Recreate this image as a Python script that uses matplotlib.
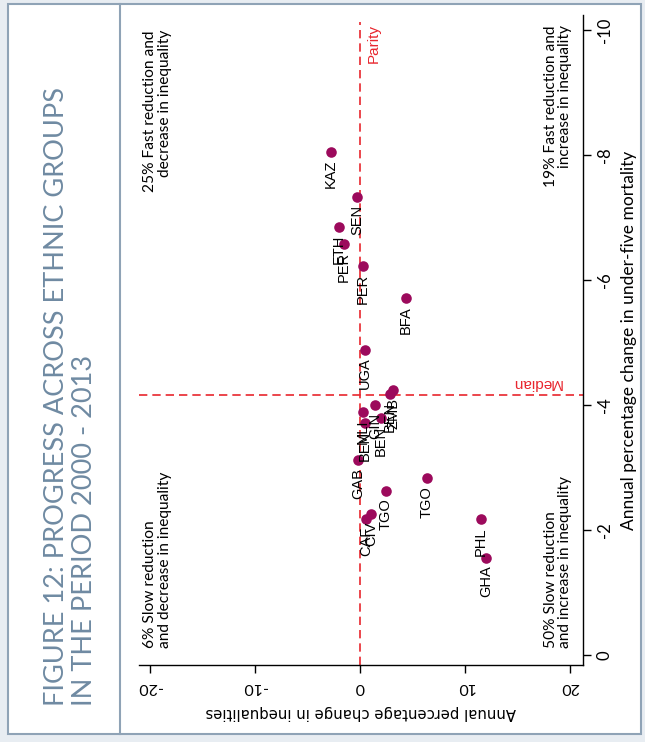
import matplotlib.pyplot as plt
from matplotlib.patches import Rectangle
from matplotlib.lines import Line2D

# ethnic groups: annual % change in inequality (x) and in under-five mortality (y)
labels = ['KAZ', 'SEN', 'ETH', 'PER', 'PER', 'BFA', 'UGA', 'ZMB', 'BEN', 'GIN',
          'MLI', 'BEN', 'BEN', 'GAB', 'TGO', 'TGO', 'CAF', 'CIV', 'PHL', 'GHA']
ineq = [-2.79, -0.25, -2.03, -1.52, 0.25, 4.35, 0.50, 3.17, 2.86, 1.43,
        0.26, 1.97, 0.48, -0.16, 2.48, 6.35, 0.57, 1.05, 11.49, 12.0]
u5mr = [-8.05, -7.33, -6.85, -6.57, -6.22, -5.71, -4.88, -4.24, -4.18, -4.00,
        -3.89, -3.79, -3.71, -3.12, -2.63, -2.83, -2.18, -2.26, -2.17, -1.56]
median_u5mr = -4.16
xticks = [-20, -10, 0, 10, 20]
yticks = [0, -2, -4, -6, -8, -10]

humanist = ['Lato', 'DejaVu Sans']
dot = '#9c0a5c'
red = '#e8262e'

fig = plt.figure(figsize=(6.45, 7.42), dpi=100)
fig.patch.set_facecolor('#e8edf2')

# panels (title panel + chart panel)
W, H = 645, 742
fig.patches.append(Rectangle((8 / W, 1 - 734 / H), (641 - 8) / W, (734 - 4) / H,
                             transform=fig.transFigure, facecolor='white',
                             edgecolor='#8fa3b6', lw=1.5, zorder=0))
fig.lines.append(Line2D([120 / W, 120 / W], [1 - 734 / H, 1 - 4 / H],
                        transform=fig.transFigure, color='#8fa3b6', lw=1.5))

fig.text(44 / W, 1 - 706 / H,
         'FIGURE 12: PROGRESS ACROSS ETHNIC GROUPS\nIN THE PERIOD 2000 - 2013',
         rotation=90, ha='left', va='bottom', multialignment='left',
         color='#6f8aa2', fontsize=19.5, family=humanist,
         linespacing=1.15)

ax = fig.add_axes([139 / W, 1 - 665 / H, (583 - 139) / W, (665 - 15) / H], zorder=2)
ax.set_xlim(-21.05, 21.24)
ax.set_ylim(0.16, -10.24)
ax.set_facecolor('none')

for s in ['left', 'top']:
    ax.spines[s].set_visible(False)
ax.spines['bottom'].set_linewidth(1)
ax.spines['right'].set_linewidth(1)

ax.yaxis.tick_right()
ax.yaxis.set_label_position('right')
ax.set_xticks(xticks)
ax.set_xticklabels([str(t) for t in xticks], rotation=180, family=humanist, fontsize=11.5)
ax.set_yticks(yticks)
ax.set_yticklabels([str(t) for t in yticks], rotation=90, va='center',
                   family=humanist, fontsize=12)
ax.tick_params(axis='both', length=6, width=1, pad=5)
ax.tick_params(axis='y', pad=4)

ax.set_xlabel('Annual percentage change in inequalities', rotation=180,
              fontsize=10.7, family='DejaVu Sans', labelpad=8)
ax.set_ylabel('Annual percentage change in under-five mortality', rotation=90,
              fontsize=12.5, family=humanist, labelpad=6)

# reference lines
ax.axvline(0, ymin=0, ymax=0.99, color=red, ls=(0, (5, 3)), lw=1.2, zorder=1)
ax.axhline(median_u5mr, color=red, ls=(0, (5, 3)), lw=1.2, zorder=1)
ax.text(1.3, -10.1, 'Parity', rotation=90, ha='center', va='top', color=red,
        fontsize=11, family='Liberation Sans')
ax.text(19.2, median_u5mr - 0.08, 'Median', rotation=180, ha='right', va='bottom',
        color=red, fontsize=11, family='Liberation Sans')

ax.scatter(ineq, u5mr, s=58, color=dot, zorder=3, linewidths=0)
for lab, x, y in zip(labels, ineq, u5mr):
    ax.annotate(lab, (x, y), xytext=(0, -5.5), textcoords='offset points',
                rotation=90, ha='center', va='top', fontsize=10.5,
                family='Liberation Sans', zorder=4)

# quadrant notes
qfont = dict(rotation=90, fontsize=11.2, family=humanist, linespacing=1.05)
ax.text(-20.67, -10.0, '25% Fast reduction and\ndecrease in inequality',
        ha='left', va='top', multialignment='right', **qfont)
ax.text(-20.67, -0.11, '6% Slow reduction\nand decrease in inequality',
        ha='left', va='bottom', multialignment='left', **qfont)
ax.text(20.2, -10.08, '19% Fast reduction and\nincrease in inequality',
        ha='right', va='top', multialignment='right', **qfont)
ax.text(20.2, -0.11, '50% Slow reduction\nand increase in inequality',
        ha='right', va='bottom', multialignment='left', **qfont)

fig.savefig('out.png', dpi=100, facecolor=fig.get_facecolor())
